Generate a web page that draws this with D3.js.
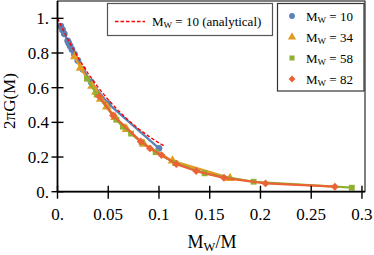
<!DOCTYPE html>
<html>
<head>
<meta charset="utf-8">
<script src="https://cdn.jsdelivr.net/npm/d3@7"></script>
<style>
  body { margin: 0; background: #fff; }
  svg { display: block; font-family: 'Liberation Serif', 'DejaVu Serif', serif; }
</style>
</head>
<body>
<div id="chart"></div>
<script>
// data (x = Mw/M, y = 2πG(M))
const mw10X = [0.1, 0.05, 0.0333, 0.025, 0.02, 0.0167, 0.0143, 0.0125, 0.0111, 0.01, 0.0067, 0.005, 0.0033];
const mw10Y = [0.25, 0.508, 0.632, 0.706, 0.757, 0.793, 0.82, 0.84, 0.857, 0.87, 0.911, 0.933, 0.955];

const mw34X = [0.17, 0.1133, 0.085, 0.068, 0.0567, 0.0486, 0.0425, 0.0378, 0.034, 0.0227, 0.017];
const mw34Y = [0.078, 0.178, 0.275, 0.36, 0.43, 0.49, 0.535, 0.575, 0.61, 0.713, 0.78];

const mw58X = [0.29, 0.1933, 0.145, 0.116, 0.0967, 0.0829, 0.0725, 0.0644, 0.058, 0.0387, 0.029];
const mw58Y = [0.023, 0.0575, 0.106, 0.165, 0.228, 0.285, 0.335, 0.375, 0.415, 0.56, 0.652];

const mw82X = [0.2733, 0.205, 0.164, 0.1367, 0.1171, 0.1025, 0.0911, 0.082, 0.0547, 0.041];
const mw82Y = [0.029, 0.048, 0.08, 0.119, 0.159, 0.211, 0.25, 0.29, 0.44, 0.55];

const anX = [0, 0.01, 0.02, 0.03, 0.04, 0.05, 0.06, 0.07, 0.08, 0.09, 0.1, 0.105];
const anY = [1.0, 0.881, 0.776, 0.683, 0.602, 0.53, 0.467, 0.411, 0.362, 0.319, 0.281, 0.264];

const seriesNames = ['10', '34', '58', '82'];
const xTicks = [0, 0.05, 0.1, 0.15, 0.2, 0.25, 0.3];
const xTickLabels = ['0.', '0.05', '0.1', '0.15', '0.2', '0.25', '0.3'];
const yTicks = [0, 0.2, 0.4, 0.6, 0.8, 1.0];
const yTickLabels = ['0.', '0.2', '0.4', '0.6', '0.8', '1.'];

// style configs
const width = 374;
const height = 255;
const colors = ['#5E81B5', '#E19C24', '#8FB032', '#EB6235'];
const shapes = [d3.symbolCircle, d3.symbolTriangle, d3.symbolSquare, d3.symbolDiamond2];
const sizes = [36, 40, 34, 40];

const pLeft = 57.5, pRight = 365, pTop = 1, pBottom = 191.7;

const x = d3.scaleLinear().domain([0, 0.303]).range([pLeft, pRight]);
const y = d3.scaleLinear().domain([0, 1.1]).range([pBottom, pTop]);

const svg = d3.select('#chart').append('svg')
  .attr('width', width)
  .attr('height', height);

// frame
svg.append('rect')
  .attr('x', pLeft).attr('y', pTop)
  .attr('width', pRight - pLeft).attr('height', pBottom - pTop)
  .attr('fill', 'none').attr('stroke', '#000').attr('stroke-width', 1);

const series = [
  [mw10X, mw10Y], [mw34X, mw34Y], [mw58X, mw58Y], [mw82X, mw82Y]
].map(([xs, ys]) => xs.map((v, i) => ({ x: v, y: ys[i] })).sort((a, b) => a.x - b.x));

const line = d3.line().x(d => x(d.x)).y(d => y(d.y));

const plot = svg.append('g');
series.forEach((pts, k) => {
  const g = plot.append('g');
  g.append('path')
    .attr('d', line(pts))
    .attr('fill', 'none')
    .attr('stroke', colors[k])
    .attr('stroke-width', 2.2)
    .attr('stroke-linejoin', 'round');
  g.selectAll('path.pt')
    .data(pts)
    .enter()
    .append('path')
    .attr('class', 'pt')
    .attr('transform', d => `translate(${x(d.x)},${y(d.y)})`)
    .attr('d', d3.symbol().type(shapes[k]).size(sizes[k]))
    .attr('fill', colors[k]);
});

// analytical curve
const an = anX.map((v, i) => ({ x: v, y: anY[i] }));
plot.append('path')
  .attr('d', line(an))
  .attr('fill', 'none')
  .attr('stroke', '#ff0000')
  .attr('stroke-width', 1.4)
  .attr('stroke-dasharray', '3.5,2');

// axes with crossing ticks
const xAxis = svg.append('g');
xAxis.append('line')
  .attr('x1', pLeft).attr('x2', pRight).attr('y1', pBottom).attr('y2', pBottom)
  .attr('stroke', '#000').attr('stroke-width', 1.8);
xAxis.selectAll('line.tick')
  .data(xTicks)
  .enter()
  .append('line')
  .attr('class', 'tick')
  .attr('x1', d => x(d)).attr('x2', d => x(d))
  .attr('y1', pBottom - 6).attr('y2', pBottom + 7)
  .attr('stroke', '#000').attr('stroke-width', 1.4);
xAxis.selectAll('text')
  .data(xTicks)
  .enter()
  .append('text')
  .attr('x', d => x(d))
  .attr('y', 220)
  .attr('text-anchor', 'middle')
  .attr('font-size', 17)
  .text((d, i) => xTickLabels[i]);

const yAxis = svg.append('g');
yAxis.append('line')
  .attr('x1', pLeft).attr('x2', pLeft).attr('y1', pTop).attr('y2', pBottom)
  .attr('stroke', '#000').attr('stroke-width', 1.8);
yAxis.selectAll('line.tick')
  .data(yTicks)
  .enter()
  .append('line')
  .attr('class', 'tick')
  .attr('x1', pLeft - 6).attr('x2', pLeft + 6)
  .attr('y1', d => y(d)).attr('y2', d => y(d))
  .attr('stroke', '#000').attr('stroke-width', 1.4);
yAxis.selectAll('text')
  .data(yTicks)
  .enter()
  .append('text')
  .attr('x', 49)
  .attr('y', d => y(d) + 6)
  .attr('text-anchor', 'end')
  .attr('font-size', 17)
  .text((d, i) => yTickLabels[i]);

// axis labels
const xl = svg.append('text')
  .attr('x', 212).attr('y', 248)
  .attr('text-anchor', 'middle')
  .attr('font-size', 18);
xl.append('tspan').text('M');
xl.append('tspan').attr('font-size', 12.5).attr('dy', 3).text('W');
xl.append('tspan').attr('dy', -3).text('/M');

svg.append('text')
  .attr('transform', 'translate(15,101) rotate(-90)')
  .attr('text-anchor', 'middle')
  .attr('font-size', 17)
  .text('2πG(M)');

// legend: analytical
const lg1 = svg.append('g');
lg1.append('rect')
  .attr('x', 107.5).attr('y', 3.5).attr('width', 165).attr('height', 32)
  .attr('fill', '#fff').attr('stroke', '#555').attr('stroke-width', 1.2);
lg1.append('line')
  .attr('x1', 115).attr('x2', 145).attr('y1', 21.5).attr('y2', 21.5)
  .attr('stroke', '#ff0000').attr('stroke-width', 1.4).attr('stroke-dasharray', '3.5,2');
const t1 = lg1.append('text').attr('x', 152).attr('y', 25.5).attr('font-size', 13);
t1.append('tspan').text('M');
t1.append('tspan').attr('font-size', 9).attr('dy', 2).text('W');
t1.append('tspan').attr('dy', -2).text(' = 10 (analytical)');

// legend: simulations
const lg2 = svg.append('g');
lg2.append('rect')
  .attr('x', 277.5).attr('y', 3.5).attr('width', 86.5).attr('height', 87.5)
  .attr('fill', '#fff').attr('stroke', '#333').attr('stroke-width', 1.2);
const items = lg2.selectAll('g.item')
  .data(seriesNames)
  .enter()
  .append('g')
  .attr('class', 'item')
  .attr('transform', (d, i) => `translate(0,${16 + i * 21})`);
items.append('path')
  .attr('transform', 'translate(292,0)')
  .attr('d', (d, i) => d3.symbol().type(shapes[i]).size(sizes[i] * 0.75)())
  .attr('fill', (d, i) => colors[i]);
const t2 = items.append('text').attr('x', 306).attr('y', 4.5).attr('font-size', 13);
t2.append('tspan').text('M');
t2.append('tspan').attr('font-size', 9).attr('dy', 2).text('W');
t2.append('tspan').attr('dy', -2).text(d => ' = ' + d);
</script>
</body>
</html>
